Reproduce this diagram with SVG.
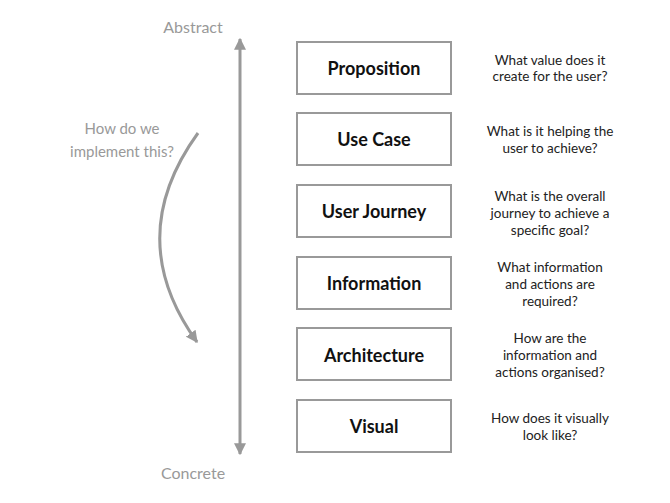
<svg xmlns="http://www.w3.org/2000/svg" width="670" height="503" viewBox="0 0 670 503">
<defs>
<style>
.box{fill:#fff;stroke:#999;stroke-width:2}
.lbl{font-family:Lato,"Open Sans",sans-serif;font-weight:bold;font-size:18px;fill:#111;text-anchor:middle}
.q{font-family:Lato,"Open Sans",sans-serif;font-size:13.5px;fill:#222;text-anchor:middle}
.g{font-family:Lato,"Open Sans",sans-serif;font-size:16px;fill:#999;text-anchor:middle}
.g2{font-family:Lato,"Open Sans",sans-serif;font-size:15px;fill:#999;text-anchor:middle}
.ln{fill:none;stroke:#999;stroke-width:3}
</style>
<marker id="ah" viewBox="0 0 10 10" refX="9" refY="5" markerWidth="4" markerHeight="4.4" orient="auto-start-reverse" markerUnits="strokeWidth">
<path d="M0,0 L10,5 L0,10 z" fill="#999"/>
</marker>
</defs>
<rect width="670" height="503" fill="#fff"/>
<text class="g" x="193" y="33">Abstract</text>
<text class="g" x="193" y="479">Concrete</text>
<text class="g2" x="122" y="134">How do we</text>
<text class="g2" x="122" y="157">implement this?</text>
<g id="connectors">
<path class="ln" d="M240,39 L240,454" marker-start="url(#ah)" marker-end="url(#ah)"/>
<path class="ln" d="M198,133 Q122,238 197,342" marker-end="url(#ah)"/>
</g>
<g id="proposition">
<rect class="box" x="297" y="42" width="154" height="52"/>
<text class="lbl" x="374" y="75">Proposition</text>
<text class="q" x="550" y="65">What value does it</text>
<text class="q" x="550" y="81">create for the user?</text>
</g>
<g id="usecase">
<rect class="box" x="297" y="113" width="154" height="52"/>
<text class="lbl" x="374" y="146">Use Case</text>
<text class="q" x="550" y="136">What is it helping the</text>
<text class="q" x="550" y="153">user to achieve?</text>
</g>
<g id="userjourney">
<rect class="box" x="297" y="185" width="154" height="52"/>
<text class="lbl" x="374" y="218">User Journey</text>
<text class="q" x="550" y="201">What is the overall</text>
<text class="q" x="550" y="218">journey to achieve a</text>
<text class="q" x="550" y="235">specific goal?</text>
</g>
<g id="information">
<rect class="box" x="297" y="257" width="154" height="52"/>
<text class="lbl" x="374" y="290">Information</text>
<text class="q" x="550" y="272">What information</text>
<text class="q" x="550" y="289">and actions are</text>
<text class="q" x="550" y="306">required?</text>
</g>
<g id="architecture">
<rect class="box" x="297" y="328" width="154" height="52"/>
<text class="lbl" x="374" y="362">Architecture</text>
<text class="q" x="550" y="343">How are the</text>
<text class="q" x="550" y="360">information and</text>
<text class="q" x="550" y="377">actions organised?</text>
</g>
<g id="visual">
<rect class="box" x="297" y="400" width="154" height="52"/>
<text class="lbl" x="374" y="433">Visual</text>
<text class="q" x="550" y="423">How does it visually</text>
<text class="q" x="550" y="440">look like?</text>
</g>
</svg>
